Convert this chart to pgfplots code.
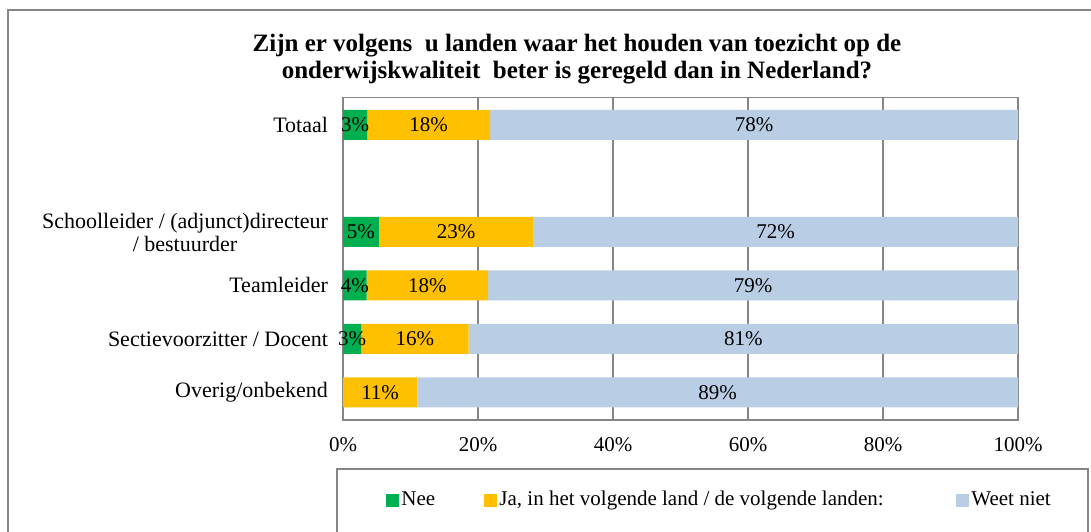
\documentclass[border=0pt]{standalone}
\usepackage{fontspec}
\setmainfont{Liberation Serif}
\usepackage{pgfplots}
\pgfplotsset{compat=1.18}
\usepackage{pgfplotstable}
\definecolor{cNee}{HTML}{00B050}
\definecolor{cJa}{HTML}{FFC000}
\definecolor{cWeet}{HTML}{B9CDE5}
\definecolor{cgrid}{HTML}{868686}

\pgfplotstableread{
y nee ja weet
0 0.0 11.0 89.0
1 2.7 15.9 81.4
2 3.5 18.0 78.5
3 5.3 22.9 71.8
5 3.6 18.2 78.2
}\datatable

\pgfplotstableread{
x y label
5.5 0 11
55.5 0 89
1.35 1 3
10.65 1 16
59.3 1 81
1.75 2 4
12.5 2 18
60.75 2 79
2.65 3 5
16.75 3 23
64.1 3 72
1.8 5 3
12.7 5 18
60.9 5 78
}\labeltable

\begin{document}
\begin{tikzpicture}
\useasboundingbox (0pt,0pt) rectangle (545.5pt,-265.5pt);
\clip (0pt,0pt) rectangle (545.5pt,-265.5pt);
% outer chart frame
\draw[cgrid, line width=1pt] (4pt,-300pt) -- (4pt,-5pt) -- (600pt,-5pt);
% title
\node[font=\fontsize{12.5}{13.5}\selectfont\bfseries, align=center] at (288.5pt,-29.5pt)
  {Zijn er volgens\ \ u landen waar het houden van toezicht op de\\onderwijskwaliteit\ \ beter is geregeld dan in Nederland?};
% legend box
\draw[cgrid, line width=0.6pt] (168.5pt,-300pt) -- (168.5pt,-234.5pt) -- (544pt,-234.5pt) -- (544pt,-300pt);

\begin{axis}[
  at={(171.5pt,-48.85pt)}, anchor=north west,
  scale only axis, width=337.5pt, height=161.15pt,
  xbar stacked, bar width=15pt,
  xmin=0, xmax=100, ymin=-0.515, ymax=5.51,
  xtick={0,20,40,60,80,100},
  xticklabel={\pgfmathprintnumber{\tick}\%},
  ytick={0,1,2,3,5},
  yticklabels={Overig/onbekend, Sectievoorzitter / Docent, Teamleider, {Schoolleider / (adjunct)directeur\\ / bestuurder}, Totaal},
  xticklabel style={font=\fontsize{10.5}{11.5}\selectfont},
  yticklabel style={align=center, xshift=-4pt, font=\fontsize{11}{11.5}\selectfont},
  xticklabel shift=5pt,
  major tick length=0pt,
  xmajorgrids,
  grid style={cgrid, line width=0.75pt},
  axis line style={cgrid, line width=0.75pt},
  /pgf/number format/assume math mode=true,
  legend columns=3,
  legend style={at={(axis description cs:0.063,-0.2482)}, anchor=west,
    draw=none, fill=none, inner sep=0pt, column sep=0pt,
    nodes={inner sep=1.25pt}, font=\fontsize{10.5}{11.5}\selectfont},
]
\addplot[fill=cNee, draw=none,
  legend image code/.code={\fill[cNee] (0pt,-3.25pt) rectangle (6.5pt,3.25pt);}]
  table[x=nee, y=y] {\datatable};
\addlegendentry{\makebox[40pt][l]{Nee}}
\addplot[fill=cJa, draw=none,
  legend image code/.code={\fill[cJa] (0pt,-3.25pt) rectangle (6.5pt,3.25pt);}]
  table[x=ja, y=y] {\datatable};
\addlegendentry{\makebox[227pt][l]{Ja, in het volgende land / de volgende landen:}}
\addplot[fill=cWeet, draw=none,
  legend image code/.code={\fill[cWeet] (0pt,-3.25pt) rectangle (6.5pt,3.25pt);}]
  table[x=weet, y=y] {\datatable};
\addlegendentry{Weet niet}
\end{axis}

\begin{axis}[
  at={(171.5pt,-48.85pt)}, anchor=north west,
  scale only axis, width=337.5pt, height=161.15pt,
  xmin=0, xmax=100, ymin=-0.515, ymax=5.51,
  hide axis,
]
\addplot[draw=none, mark=none, nodes near coords={\pgfplotspointmeta\%},
  point meta=explicit symbolic,
  every node near coord/.append style={anchor=center, font=\fontsize{10.5}{11.5}\selectfont, text=black}]
  table[x=x, y=y, meta=label] {\labeltable};
\end{axis}
\end{tikzpicture}
\end{document}
